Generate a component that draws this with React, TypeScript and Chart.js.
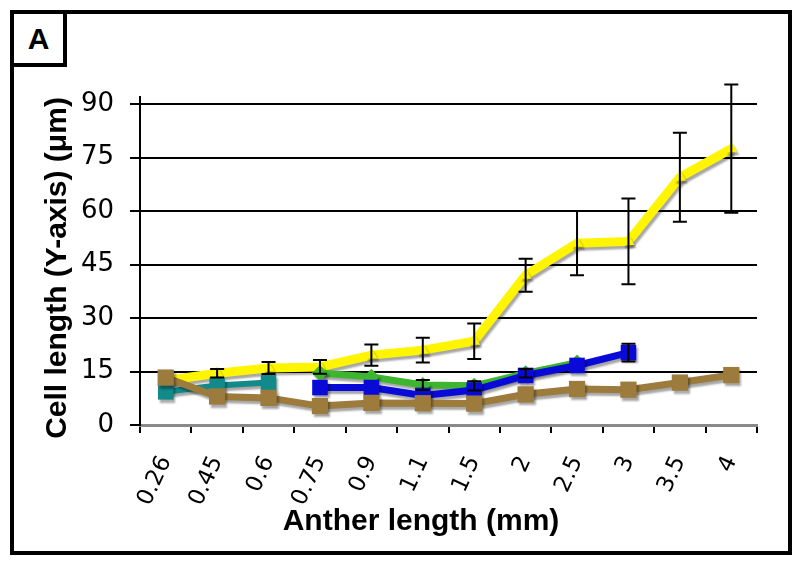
import React, { useEffect, useRef } from 'react';
import { Chart, registerables } from 'chart.js';

Chart.register(...registerables);

const categories = ['0.26', '0.45', '0.6', '0.75', '0.9', '1.1', '1.5', '2', '2.5', '3', '3.5', '4'];
const yellowValues = [12.5, 14.5, 16, 16.3, 19.6, 21, 23.5, 42, 51, 51.5, 69.5, 77.5];
const yellowErrors = [0, 1.2, 1.7, 1.9, 3, 3.5, 5, 4.6, 9, 12, 12.5, 18];
const greenValues = [null, null, null, 14.6, 13.5, 11.2, 11, 14.5, 17.5, null, null, null];
const greenErrors = [0, 0, 0, 0, 0, 1.4, 1.3, 1.2, 0, 0, 0, 0];
const blueValues = [null, null, null, 10.5, 10.5, 8.3, 9.8, 13.9, 16.7, 20.3, null, null];
const blueErrors = [0, 0, 0, 0, 0, 0, 0, 0, 0, 2.5, 0, 0];
const tealValues = [9.3, 11.1, 11.9, null, null, null, null, null, null, null, null, null];
const brownValues = [13.3, 8, 7.6, 5.3, 6.2, 6.1, 6.0, 8.6, 10.1, 9.9, 11.9, 14];
const yTicks = [0, 15, 30, 45, 60, 75, 90];
const xTitle = 'Anther length (mm)';
const yTitle = 'Cell length (Y-axis) (\u03bcm)';

const errorMap: Record<string, number[]> = {
  yellow: yellowErrors,
  green: greenErrors,
  blue: blueErrors,
};

const shadowPlugin = {
  id: 'shadowPlugin',
  beforeDatasetDraw(chart: any) {
    const ctx = chart.ctx;
    ctx.save();
    ctx.shadowColor = 'rgba(0,0,0,0.35)';
    ctx.shadowOffsetX = 2;
    ctx.shadowOffsetY = 3;
    ctx.shadowBlur = 2;
  },
  afterDatasetDraw(chart: any) {
    chart.ctx.restore();
  },
};

const errorBarPlugin = {
  id: 'errorBarPlugin',
  afterDatasetsDraw(chart: any) {
    const ctx = chart.ctx;
    const xs = chart.scales.x;
    const ys = chart.scales.y;
    ctx.save();
    ctx.strokeStyle = '#000';
    ctx.lineWidth = 2;
    chart.data.datasets.forEach((ds: any) => {
      const errs = errorMap[ds.key];
      if (!errs) return;
      ds.data.forEach((v: number | null, i: number) => {
        const e = errs[i];
        if (v == null || !e) return;
        const x = xs.getPixelForValue(i);
        const yt = ys.getPixelForValue(v + e);
        const yb = ys.getPixelForValue(v - e);
        const cap = 7;
        ctx.beginPath();
        ctx.moveTo(x, yt);
        ctx.lineTo(x, yb);
        ctx.moveTo(x - cap, yt);
        ctx.lineTo(x + cap, yt);
        ctx.moveTo(x - cap, yb);
        ctx.lineTo(x + cap, yb);
        ctx.stroke();
      });
    });
    ctx.restore();
  },
};

const axisTitlePlugin = {
  id: 'axisTitlePlugin',
  afterDraw(chart: any) {
    const ctx = chart.ctx;
    ctx.save();
    ctx.fillStyle = '#000';
    ctx.font = 'bold 30px "Liberation Sans"';
    ctx.textAlign = 'center';
    ctx.textBaseline = 'middle';
    ctx.fillText(xTitle, 421, 522);
    ctx.translate(58, 268);
    ctx.rotate(-Math.PI / 2);
    ctx.fillText(yTitle, 0, 0);
    ctx.restore();
  },
};

function mk(key: string, data: (number | null)[], color: string, style: string, radius: number, width: number) {
  return {
    key,
    data,
    borderColor: color,
    backgroundColor: color,
    pointBackgroundColor: color,
    pointBorderColor: color,
    pointStyle: style,
    pointRadius: radius,
    pointBorderWidth: 0,
    borderWidth: width,
    spanGaps: false,
    tension: 0,
    clip: false,
  };
}

export default function App() {
  const ref = useRef<HTMLCanvasElement>(null);
  useEffect(() => {
    if (!ref.current) return;
    const chart = new Chart(ref.current, {
      type: 'line',
      data: {
        labels: categories,
        datasets: [
          mk('brown', brownValues, '#9C7B3C', 'rect', 11.5, 7),
          mk('teal', tealValues, '#138A8A', 'rect', 11, 6),
          mk('blue', blueValues, '#0A0AD8', 'rect', 11, 7),
          mk('green', greenValues, '#3DB52F', 'rectRot', 8, 7),
          mk('yellow', yellowValues, '#FFF500', 'triangle', 7, 9),
        ] as any,
      },
      options: {
        responsive: false,
        animation: false,
        layout: { padding: { top: 97, right: 43, left: 0, bottom: 0 } },
        plugins: { legend: { display: false }, tooltip: { enabled: false } },
        scales: {
          x: {
            type: 'category',
            offset: true,
            afterFit: (s: any) => {
              s.height = 143;
              s.paddingLeft = 0;
              s.paddingRight = 0;
            },
            grid: {
              offset: true,
              drawOnChartArea: false,
              drawTicks: true,
              tickLength: 8,
              color: '#000',
              lineWidth: 2,
            },
            border: { display: true, color: '#8a8a8a', width: 3 },
            ticks: {
              autoSkip: false,
              maxRotation: 65,
              minRotation: 65,
              padding: 19,
              color: '#000',
              font: { family: 'DejaVu Sans', size: 23 },
            },
            title: { display: false },
          },
          y: {
            type: 'linear',
            min: 0,
            max: 92,
            afterFit: (s: any) => {
              s.width = 140;
              s.paddingTop = 0;
              s.paddingBottom = 0;
            },
            afterBuildTicks: (s: any) => {
              s.ticks = yTicks.map((v) => ({ value: v }));
            },
            grid: {
              color: (c: any) => (c.tick && c.tick.value === 0 ? 'rgba(0,0,0,0)' : '#000'),
              tickColor: '#000',
              lineWidth: 2,
              tickLength: 10,
            },
            border: { display: true, color: '#000', width: 2 },
            ticks: {
              padding: 16,
              color: '#000',
              font: { family: 'DejaVu Sans', size: 26 },
              callback: (v: any) => String(v),
            },
            title: { display: false },
          },
        },
      } as any,
      plugins: [shadowPlugin, errorBarPlugin, axisTitlePlugin],
    });
    return () => chart.destroy();
  }, []);

  return (
    <div style={{ position: 'absolute', left: 0, top: 0, width: 800, height: 568, background: '#fff' }}>
      <div
        style={{
          position: 'absolute',
          left: 10,
          top: 10,
          width: 774,
          height: 537,
          border: '4px solid #000',
        }}
      />
      <div
        style={{
          position: 'absolute',
          left: 10,
          top: 10,
          width: 49,
          height: 49,
          border: '4px solid #000',
          display: 'flex',
          alignItems: 'center',
          justifyContent: 'center',
          fontFamily: 'Liberation Sans',
          fontWeight: 'bold',
          fontSize: 30,
          color: '#000',
        }}
      >
        A
      </div>
      <canvas ref={ref} width={800} height={568} style={{ position: 'absolute', left: 0, top: 0 }} />
    </div>
  );
}
